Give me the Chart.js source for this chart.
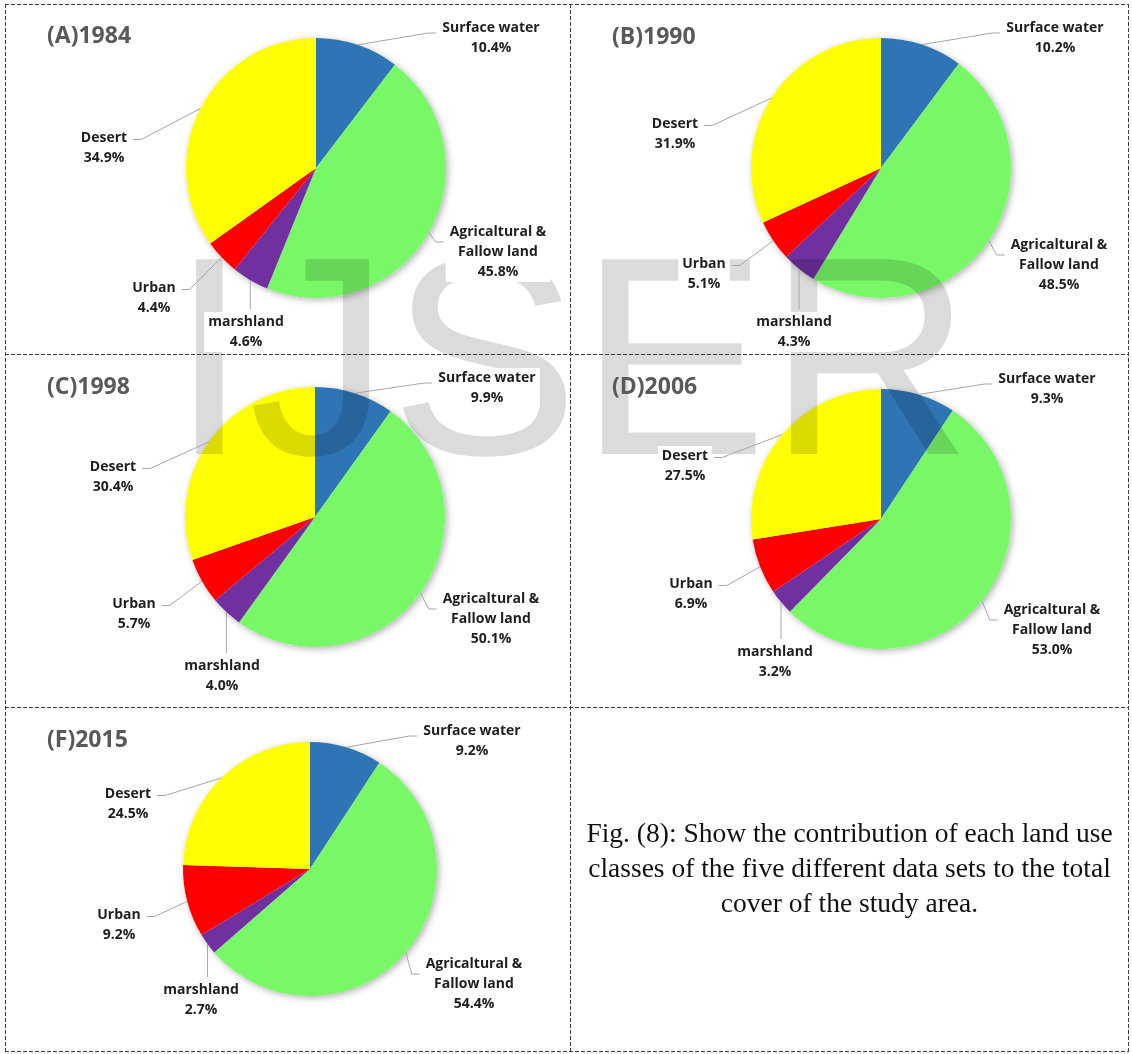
<!DOCTYPE html>
<html>
<head>
<meta charset="utf-8">
<title>Land use classes</title>
<script src="https://cdn.jsdelivr.net/npm/chart.js@4.4.1/dist/chart.umd.min.js"></script>
<style>
  body { margin: 0; background: #fff; }
  #page { position: relative; width: 1132px; height: 1054px; overflow: hidden; background: #fff; }
  #page canvas { position: absolute; }
  #frame { position: absolute; left: 0; top: 0; }
  #caption {
    position: absolute; left: 570px; width: 559px; top: 815px;
    text-align: center; font-family: "Liberation Serif", serif;
    font-size: 27.5px; line-height: 35px; color: #111;
  }
</style>
</head>
<body>
<div id="page">
  <svg id="frame" width="1132" height="1054" stroke="#3c3c3c" stroke-width="1" stroke-dasharray="4 2">
    <line x1="5" y1="4.5" x2="1129" y2="4.5"/>
    <line x1="5" y1="354.5" x2="1129" y2="354.5"/>
    <line x1="5" y1="707.5" x2="1129" y2="707.5"/>
    <line x1="5" y1="1051.5" x2="1129" y2="1051.5"/>
    <line x1="5.5" y1="4" x2="5.5" y2="1052"/>
    <line x1="570.5" y1="4" x2="570.5" y2="1052"/>
    <line x1="1128.5" y1="4" x2="1128.5" y2="1052"/>
  </svg>
  <div id="caption">Fig. (8): Show the contribution of each land use<br>classes of the five different data sets to the total<br>cover of the study area.</div>
</div>
<script>
// land use classes, clockwise from 12 o'clock
const categories = ['Surface water', ['Agricaltural &', 'Fallow land'], 'marshland', 'Urban', 'Desert'];
const panelTitles = ['(A)1984', '(B)1990', '(C)1998', '(D)2006', '(F)2015'];

// share of total cover (%)
const share1984 = [10.4, 45.8, 4.6, 4.4, 34.9];
const share1990 = [10.2, 48.5, 4.3, 5.1, 31.9];
const share1998 = [9.9, 50.1, 4.0, 5.7, 30.4];
const share2006 = [9.3, 53.0, 3.2, 6.9, 27.5];
const share2015 = [9.2, 54.4, 2.7, 9.2, 24.5];
const allShares = [share1984, share1990, share1998, share2006, share2015];

const sliceColors = ['#2E75B6', '#78F866', '#7030A0', '#FF0000', '#FFFF00'];

// page layout: cell box, pie centre/radius, title spot, label offsets from centre
const panels = [
  { cell: [5, 4, 565, 350], center: [316, 168], r: 130, titleAt: [47, 36],
    labels: [[175, -140, 'r'], [182, 64, 'r'], [-70, 154, 'b'], [-162, 120, 'l'], [-212, -30, 'l']] },
  { cell: [570, 4, 559, 350], center: [881, 168], r: 130, titleAt: [612, 37],
    labels: [[174, -140, 'r'], [178, 77, 'r'], [-87, 154, 'b'], [-177, 96, 'l'], [-206, -44, 'l']] },
  { cell: [5, 354, 565, 353], center: [315, 517], r: 130, titleAt: [47, 387],
    labels: [[172, -139, 'r'], [176, 82, 'r'], [-93, 149, 'b'], [-181, 87, 'l'], [-202, -50, 'l']] },
  { cell: [570, 354, 559, 353], center: [881, 519], r: 130, titleAt: [612, 387],
    labels: [[166, -140, 'r'], [171, 91, 'r'], [-106, 133, 'b'], [-190, 65, 'l'], [-196, -63, 'l']] },
  { cell: [5, 707, 565, 345], center: [310, 869], r: 127, titleAt: [47, 740],
    labels: [[162, -138, 'r'], [164, 95, 'r'], [-109, 121, 'b'], [-191, 46, 'l'], [-182, -75, 'l']] }
];

const page = document.getElementById('page');
const frame = document.getElementById('frame');

function pieDecor(p, title) {
  return {
    id: 'pieDecor',
    beforeDatasetsDraw(chart) {
      // soft drop shadow under the pie
      const arc = chart.getDatasetMeta(0).data[0];
      const ctx = chart.ctx;
      ctx.save();
      ctx.shadowColor = 'rgba(0,0,0,0.3)';
      ctx.shadowBlur = 7;
      ctx.shadowOffsetX = 2;
      ctx.shadowOffsetY = 2;
      ctx.fillStyle = '#fff';
      ctx.beginPath();
      ctx.arc(arc.x, arc.y, arc.outerRadius, 0, Math.PI * 2);
      ctx.fill();
      ctx.restore();
    },
    afterDatasetsDraw(chart) {
      const ctx = chart.ctx;
      // watermark, placed in page coordinates
      ctx.save();
      ctx.translate(-p.cell[0], -p.cell[1]);
      ctx.font = '283px "Liberation Sans"';
      ctx.fillStyle = 'rgba(0,0,0,0.14)';
      ctx.textBaseline = 'alphabetic';
      ctx.fillText('IJSER', 170, 454);
      ctx.restore();

      const meta = chart.getDatasetMeta(0);
      const values = chart.data.datasets[0].data;
      ctx.save();
      ctx.font = 'bold 14px "Open Sans"';
      ctx.textAlign = 'center';
      ctx.textBaseline = 'middle';
      meta.data.forEach((arc, i) => {
        const name = chart.data.labels[i];
        const lines = (Array.isArray(name) ? name : [name]).concat(values[i].toFixed(1) + '%');
        const [dx, dy, side] = p.labels[i];
        const lx = arc.x + dx, ly = arc.y + dy;
        const w = Math.max(...lines.map(s => ctx.measureText(s).width));
        const last = ly + (lines.length - 1) * 20;

        ctx.fillStyle = '#fff';
        ctx.fillRect(lx - w / 2 - 4, ly - 10, w + 8, last - ly + 20);

        const mid = (arc.startAngle + arc.endAngle) / 2;
        const ax = arc.x + Math.cos(mid) * arc.outerRadius;
        const ay = arc.y + Math.sin(mid) * arc.outerRadius;
        ctx.strokeStyle = '#a6a6a6';
        ctx.lineWidth = 1;
        ctx.beginPath();
        ctx.moveTo(ax, ay);
        if (side === 'b') {
          ctx.lineTo(ax, ly - 13);
        } else if (side === 'r') {
          const ey = ly + (lines.length - 1) * 5;
          const ex = lx - w / 2 - 6;
          ctx.lineTo(ex - 8, ey);
          ctx.lineTo(ex, ey);
        } else {
          const ey = ly + 1.5;
          const ex = lx + w / 2 + 6;
          ctx.lineTo(ex + 8, ey);
          ctx.lineTo(ex, ey);
        }
        ctx.stroke();

        ctx.fillStyle = '#1e1e1e';
        lines.forEach((s, k) => ctx.fillText(s, lx, ly + k * 20));
      });

      ctx.font = 'bold 23px "Open Sans"';
      ctx.textAlign = 'left';
      ctx.fillStyle = '#595959';
      ctx.fillText(title, p.titleAt[0] - p.cell[0], p.titleAt[1] - p.cell[1]);
      ctx.restore();
    }
  };
}

function makePie(p, values, title) {
  const canvas = document.createElement('canvas');
  canvas.width = p.cell[2];
  canvas.height = p.cell[3];
  canvas.style.left = p.cell[0] + 'px';
  canvas.style.top = p.cell[1] + 'px';
  page.insertBefore(canvas, frame);

  const cx = p.center[0] - p.cell[0];
  const cy = p.center[1] - p.cell[1];
  return new Chart(canvas, {
    type: 'pie',
    data: {
      labels: categories,
      datasets: [{ data: values, backgroundColor: sliceColors, borderWidth: 0 }]
    },
    options: {
      responsive: false,
      animation: false,
      layout: {
        padding: { left: cx - p.r, right: p.cell[2] - cx - p.r, top: cy - p.r, bottom: p.cell[3] - cy - p.r }
      },
      plugins: { legend: { display: false }, tooltip: { enabled: false } }
    },
    plugins: [pieDecor(p, title)]
  });
}

panels.forEach((p, i) => makePie(p, allShares[i], panelTitles[i]));
</script>
</body>
</html>
